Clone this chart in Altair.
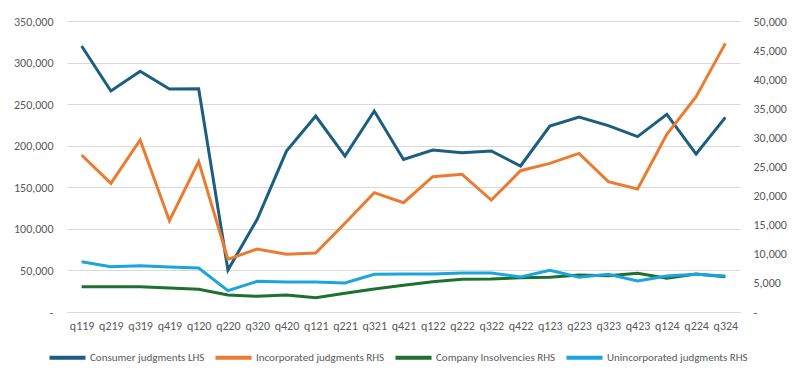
import altair as alt
import pandas as pd

quarters = ["q119", "q219", "q319", "q419", "q120", "q220", "q320", "q420",
            "q121", "q221", "q321", "q421", "q122", "q222", "q322", "q422",
            "q123", "q223", "q323", "q423", "q124", "q224", "q324"]

consumer = [320000, 265800, 289500, 268200, 268500, 50500, 111500, 193600,
            235700, 187600, 241700, 183500, 194800, 191600, 193600, 175600,
            223700, 234500, 224100, 210900, 237700, 190000, 234100]
incorporated = [26980, 22100, 29550, 15690, 25830, 9050, 10820, 9910,
                10140, 15240, 20500, 18780, 23250, 23650, 19240, 24280,
                25540, 27260, 22390, 21130, 30520, 36990, 46160]
company = [4350, 4350, 4350, 4120, 3900, 2920, 2690, 2920,
           2460, 3210, 3950, 4580, 5210, 5610, 5670, 5900,
           5960, 6360, 6240, 6650, 5790, 6530, 6070]
unincorporated = [8640, 7780, 7960, 7730, 7560, 3660, 5270, 5150,
                  5150, 4980, 6480, 6530, 6530, 6700, 6700, 6010,
                  7160, 5960, 6480, 5330, 6190, 6480, 6190]

series_names = ["Consumer judgments LHS", "Incorporated judgments RHS",
                "Company Insolvencies RHS", "Unincorporated judgments RHS"]
series_colors = ["#1B5E80", "#EB7B30", "#1E7030", "#1CA4DE"]
left_ticks = [0, 50000, 100000, 150000, 200000, 250000, 300000, 350000]
right_ticks = [0, 5000, 10000, 15000, 20000, 25000, 30000, 35000, 40000, 45000, 50000]

rows = []
for name, vals in zip(series_names, [consumer, incorporated, company, unincorporated]):
    for q, v in zip(quarters, vals):
        rows.append({"quarter": q, "series": name, "value": v})
df = pd.DataFrame(rows)

FONT = "Carlito, Calibri, Lato, sans-serif"
GRAY = "#595959"

x_enc = alt.X("quarter:O", sort=quarters, title=None,
              scale=alt.Scale(type="point", padding=0.5),
              axis=alt.Axis(labelAngle=0, ticks=False, domainColor="#D9D9D9",
                            labelPadding=8, labelFontSize=12, labelColor=GRAY,
                            labelFont=FONT, grid=False))

color_enc = alt.Color("series:N", title=None,
                      scale=alt.Scale(domain=series_names, range=series_colors),
                      sort=series_names,
                      legend=alt.Legend(orient="none", direction="horizontal",
                                        legendX=-20, legendY=316,
                                        symbolType="stroke", symbolSize=1300,
                                        symbolStrokeWidth=4, labelFontSize=11,
                                        labelColor=GRAY, labelFont=FONT,
                                        labelOffset=2, columnPadding=2,
                                        padding=0))

left = alt.Chart(df).transform_filter(
    alt.datum.series == series_names[0]
).mark_line(strokeWidth=3).encode(
    x=x_enc,
    y=alt.Y("value:Q", title=None,
            scale=alt.Scale(domain=[0, 350000], nice=False),
            axis=alt.Axis(values=left_ticks, grid=True, gridColor="#D9D9D9",
                          domain=False, ticks=False, labelPadding=14,
                          labelFontSize=12, labelColor=GRAY, labelFont=FONT,
                          labelExpr="datum.value == 0 ? '-' : format(datum.value, ',')")),
    color=color_enc,
)

right = alt.Chart(df).transform_filter(
    alt.datum.series != series_names[0]
).mark_line(strokeWidth=3).encode(
    x=x_enc,
    y=alt.Y("value:Q", title=None,
            scale=alt.Scale(domain=[0, 50000], nice=False),
            axis=alt.Axis(orient="right", values=right_ticks, grid=False,
                          domain=False, ticks=False, labelPadding=13,
                          labelFontSize=12, labelColor=GRAY, labelFont=FONT,
                          labelExpr="datum.value == 0 ? '-' : format(datum.value, ',')")),
    color=color_enc,
    detail="series:N",
)

chart = alt.layer(left, right).resolve_scale(y="independent").properties(
    width=673, height=291,
    autosize=alt.AutoSizeParams(type="none"),
    padding={"left": 59, "top": 13, "right": 50, "bottom": 63},
    background="white",
).configure_view(stroke=None)

chart.save("out.html", embed_options={"renderer": "svg", "actions": False})
